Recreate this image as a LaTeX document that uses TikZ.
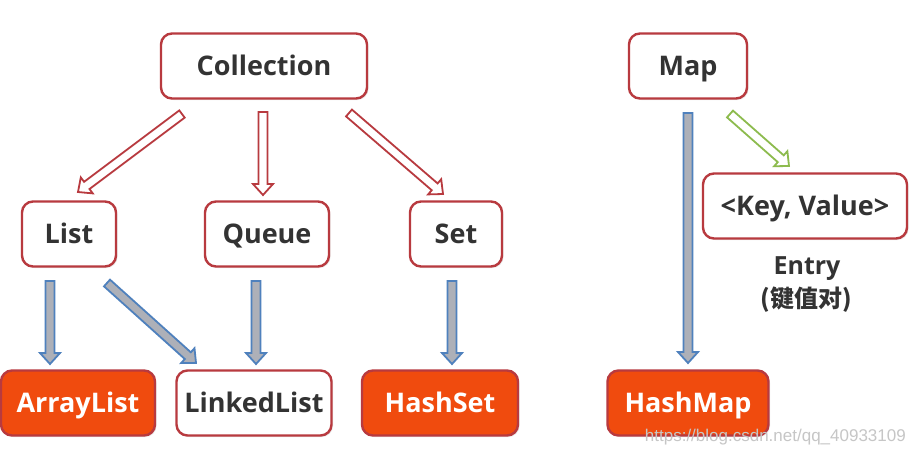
\documentclass[tikz,border=0pt]{standalone}
\usepackage{fontspec}
\setmainfont{Open Sans}
\newfontfamily\cjk{Noto Sans CJK SC}
\newfontfamily\wmfont{Liberation Sans}
\usetikzlibrary{calc,shadows}
\definecolor{boxred}{HTML}{B83A3F}
\definecolor{boxorange}{HTML}{F04B0E}
\definecolor{textdark}{HTML}{333333}
\definecolor{arrblue}{HTML}{4F81BD}
\definecolor{arrgray}{HTML}{ADB0B8}
\definecolor{arrgreen}{HTML}{8DBB4E}
% #1 start, #2 end, #3 border colour, #4 fill colour
\newcommand\blockarrow[4]{%
  \path ($(#2)!11pt!(#1)$) coordinate (ba-m);
  \filldraw[draw=#3, fill=#4, line width=1.8pt, line join=miter]
    ($(#1)!4.5pt!90:(#2)$) -- ($(ba-m)!4.5pt!90:(#2)$) -- ($(ba-m)!10pt!90:(#2)$)
    -- (#2) -- ($(ba-m)!10pt!-90:(#2)$) -- ($(ba-m)!4.5pt!-90:(#2)$)
    -- ($(#1)!4.5pt!-90:(#2)$) -- cycle;}
\begin{document}
\begin{tikzpicture}[x=1pt,y=-1pt,
  box/.style={draw=boxred, line width=2.4pt, rounded corners=11pt, fill=white,
    text=textdark, font=\fontsize{27}{31}\selectfont\bfseries,
    minimum height=65pt, inner sep=0pt, text height=19pt, text depth=0pt,
    drop shadow={opacity=0.18, shadow xshift=1.5pt, shadow yshift=-1.5pt}},
  obox/.style={box, fill=boxorange, text=white},
  lbl/.style={text=textdark, font=\fontsize{25}{29}\selectfont\bfseries, inner sep=0pt}]
\useasboundingbox (0,0) rectangle (915,456);
\fill[white] (0,0) rectangle (915,456);
% nodes
\node[box, minimum width=206pt] (coll) at (264,66) {Collection};
\node[box, minimum width=94pt] (list) at (69,234) {List};
\node[box, minimum width=124pt] (queue) at (267,234) {Queue};
\node[box, minimum width=92pt] (set) at (456,234) {Set};
\node[obox, minimum width=154pt] (alist) at (78,403) {ArrayList};
\node[box, minimum width=155pt] (llist) at (254,403) {LinkedList};
\node[obox, minimum width=156pt] (hset) at (440,403) {HashSet};
\node[box, minimum width=118pt] (map) at (688,66) {Map};
\node[box, minimum width=204pt] (kv) at (805,206) {<Key, Value>};
\node[lbl] (entry) at (807,269) {Entry};
\node[lbl, font=\fontsize{24}{28}\selectfont\cjk\bfseries] (entryzh) at (806,300) {(键值对)};
\node[obox, minimum width=161pt] (hmap) at (688,403) {HashMap};
% arrow ends
\coordinate (a1s) at (182,114); \coordinate (a1e) at (78,192);
\coordinate (a2s) at (263,112); \coordinate (a2e) at (263,195);
\coordinate (a3s) at (349,113); \coordinate (a3e) at (443,194);
\coordinate (b1s) at (50,281);  \coordinate (b1e) at (50,364);
\coordinate (b2s) at (107,283); \coordinate (b2e) at (196,363);
\coordinate (b3s) at (256,281); \coordinate (b3e) at (256,364);
\coordinate (b4s) at (452,281); \coordinate (b4e) at (452,364);
\coordinate (b5s) at (688,113); \coordinate (b5e) at (688,363);
\coordinate (g1s) at (730,114); \coordinate (g1e) at (789,166);
% connectors
\blockarrow{a1s}{a1e}{boxred}{white}
\blockarrow{a2s}{a2e}{boxred}{white}
\blockarrow{a3s}{a3e}{boxred}{white}
\blockarrow{b1s}{b1e}{arrblue}{arrgray}
\blockarrow{b2s}{b2e}{arrblue}{arrgray}
\blockarrow{b3s}{b3e}{arrblue}{arrgray}
\blockarrow{b4s}{b4e}{arrblue}{arrgray}
\blockarrow{b5s}{b5e}{arrblue}{arrgray}
\blockarrow{g1s}{g1e}{arrgreen}{white}
% watermark
\node[anchor=east, text=gray!45, font=\wmfont\fontsize{17}{20}\selectfont, inner sep=0pt] (wm) at (906,437) {https://blog.csdn.net/qq\_40933109};
\end{tikzpicture}
\end{document}
